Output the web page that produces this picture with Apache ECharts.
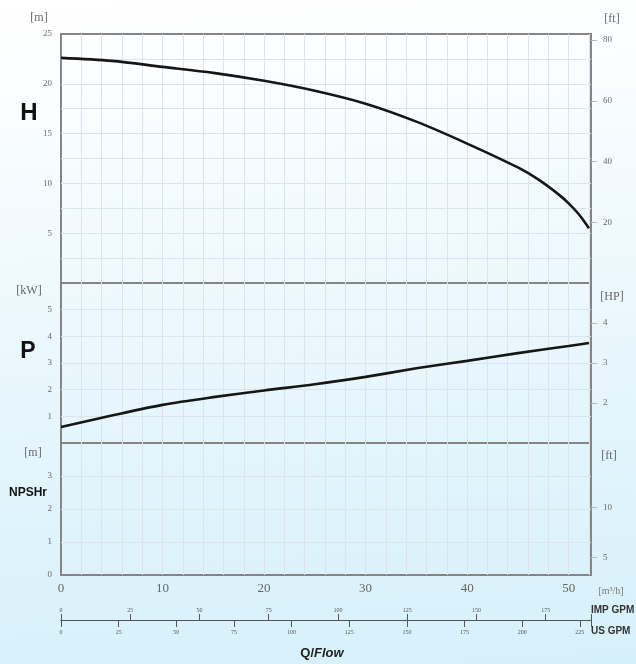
<!DOCTYPE html>
<html><head><meta charset="utf-8">
<script src="https://cdn.jsdelivr.net/npm/echarts@6/dist/echarts.min.js"></script>
<style>
html,body{margin:0;padding:0;}
body{width:636px;height:664px;background:linear-gradient(176deg,#ffffff 0%,#fcfeff 12%,#eff9fd 40%,#e1f4fc 70%,#d6f0fb 100%);}
#c{width:636px;height:664px;}
</style></head><body><div id="c"></div>
<script>
// Head curve H [m] vs flow Q [m3/h]
const flowH = [0, 5, 10, 15, 20, 25, 30, 35, 40, 45, 47, 49, 50, 51, 52];
const headM = [22.6, 22.3, 21.7, 21.1, 20.3, 19.3, 18.0, 16.2, 14.0, 11.6, 10.4, 8.9, 8.0, 6.9, 5.5];
// Power curve P [kW] vs flow
const flowP = [0, 5, 10, 15, 20, 25, 30, 35, 40, 45, 50, 52];
const powerKW = [0.6, 1.03, 1.43, 1.72, 1.97, 2.2, 2.48, 2.8, 3.08, 3.37, 3.64, 3.75];
// Axis ticks
const flowLabels = [0, 10, 20, 30, 40, 50];
const headLabels = [5, 10, 15, 20, 25];
const ftLabels = [20, 40, 60, 80];
const kwLabels = [1, 2, 3, 4, 5];
const hpLabels = [2, 3, 4];
const npshLabels = [0, 1, 2, 3];
const npshFtLabels = [5, 10];

const SERIF = '"Liberation Serif","DejaVu Serif",serif';
const SANS = '"Liberation Sans",Arial,sans-serif';
const XMAX = 52.2;
const gridLine = {show: true, showMinLine: false, showMaxLine: false, lineStyle: {color: '#dbe4ea', width: 1}};
const lblStyle = {color: '#6a6a6a', fontFamily: SERIF, fontSize: 9};
function rightTick(vals){ return {show: true, length: 6, lineStyle: {color: '#b8b8b8'}, customValues: vals}; }

function inList(list){ return v => list.some(x => Math.abs(x - v) < 1e-6) ? String(v) : ''; }

function flowAxis(gi, showLabels){
  return {type: 'value', gridIndex: gi, min: 0, max: XMAX, interval: 2,
    axisLine: {show: false}, axisTick: {show: false}, splitLine: gridLine,
    axisLabel: {show: showLabels, formatter: inList(flowLabels), color: '#666', fontFamily: SERIF, fontSize: 13, margin: 7, showMaxLabel: false}};
}
const border = {show: true, borderColor: '#858585', borderWidth: 2, backgroundColor: 'transparent'};

const chart = echarts.init(document.getElementById('c'));
chart.setOption({
  animation: false,
  backgroundColor: 'transparent',
  grid: [
    Object.assign({left: 61, top: 34, width: 530, height: 249}, border),
    Object.assign({left: 61, top: 283, width: 530, height: 160}, border),
    Object.assign({left: 61, top: 443, width: 530, height: 132}, border),
    {left: 61, top: 620, width: 530, height: 0, show: false}
  ],
  xAxis: [
    flowAxis(0, false),
    flowAxis(1, false),
    flowAxis(2, true),
    {type: 'value', gridIndex: 3, position: 'top', min: 0, max: XMAX * 3.666, interval: 25,
      axisLine: {show: true, onZero: false, lineStyle: {color: '#555', width: 1}},
      axisTick: {show: true, length: 6, lineStyle: {color: '#555'}},
      splitLine: {show: false},
      axisLabel: {show: true, color: '#555', fontFamily: SERIF, fontSize: 6, margin: 7,
        formatter: v => (v % 25 === 0 ? String(v) : '')}},
    {type: 'value', gridIndex: 3, position: 'bottom', min: 0, max: XMAX * 4.403, interval: 25,
      axisLine: {show: true, onZero: false, lineStyle: {color: '#555', width: 1}},
      axisTick: {show: true, length: 7, lineStyle: {color: '#555'}},
      splitLine: {show: false},
      axisLabel: {show: true, color: '#555', fontFamily: SERIF, fontSize: 6, margin: 9,
        formatter: v => (v % 25 === 0 ? String(v) : '')}}
  ],
  yAxis: [
    {type: 'value', gridIndex: 0, position: 'left', min: 0, max: 25, interval: 2.5,
      axisLine: {show: false}, axisTick: {show: false}, splitLine: gridLine,
      axisLabel: Object.assign({formatter: inList(headLabels), margin: 9}, lblStyle)},
    {type: 'value', gridIndex: 0, position: 'right', min: 0, max: 25 * 3.2808, interval: 20,
      axisLine: {show: false}, axisTick: rightTick(ftLabels), splitLine: {show: false},
      axisLabel: Object.assign({formatter: inList(ftLabels), margin: 12}, lblStyle)},
    {type: 'value', gridIndex: 1, position: 'left', min: 0, max: 6, interval: 1,
      axisLine: {show: false}, axisTick: {show: false}, splitLine: gridLine,
      axisLabel: Object.assign({formatter: inList(kwLabels), margin: 9}, lblStyle)},
    {type: 'value', gridIndex: 1, position: 'right', min: 1, max: 5, interval: 1,
      axisLine: {show: false}, axisTick: rightTick(hpLabels), splitLine: {show: false},
      axisLabel: Object.assign({formatter: inList(hpLabels), margin: 12}, lblStyle)},
    {type: 'value', gridIndex: 2, position: 'left', min: 0, max: 4, interval: 1,
      axisLine: {show: false}, axisTick: {show: false}, splitLine: gridLine,
      axisLabel: Object.assign({formatter: inList(npshLabels), margin: 9, showMaxLabel: false}, lblStyle)},
    {type: 'value', gridIndex: 2, position: 'right', min: 3.2808, max: 5 * 3.2808,
      axisLine: {show: false}, axisTick: rightTick(npshFtLabels), splitLine: {show: false},
      axisLabel: Object.assign({customValues: npshFtLabels, margin: 12}, lblStyle)},
    {type: 'value', gridIndex: 3, show: false, min: 0, max: 1}
  ],
  series: [
    {type: 'line', xAxisIndex: 0, yAxisIndex: 0, smooth: 0.3, showSymbol: false,
      lineStyle: {color: '#161616', width: 2.6},
      data: flowH.map((q, i) => [q, headM[i]])},
    {type: 'line', xAxisIndex: 1, yAxisIndex: 2, smooth: 0.3, showSymbol: false,
      lineStyle: {color: '#161616', width: 2.6},
      data: flowP.map((q, i) => [q, powerKW[i]])}
  ],
  graphic: [
    {type: 'text', x: 39, y: 18, style: {text: '[m]', fill: '#666', font: '12px ' + SERIF, textAlign: 'center', textVerticalAlign: 'middle'}},
    {type: 'text', x: 612, y: 19, style: {text: '[ft]', fill: '#666', font: '12px ' + SERIF, textAlign: 'center', textVerticalAlign: 'middle'}},
    {type: 'text', x: 29, y: 113, style: {text: 'H', fill: '#111', font: 'bold 24px ' + SANS, textAlign: 'center', textVerticalAlign: 'middle'}},
    {type: 'text', x: 29, y: 291, style: {text: '[kW]', fill: '#666', font: '12px ' + SERIF, textAlign: 'center', textVerticalAlign: 'middle'}},
    {type: 'text', x: 612, y: 297, style: {text: '[HP]', fill: '#666', font: '12px ' + SERIF, textAlign: 'center', textVerticalAlign: 'middle'}},
    {type: 'text', x: 28, y: 352, style: {text: 'P', fill: '#111', font: 'bold 23px ' + SANS, textAlign: 'center', textVerticalAlign: 'middle'}},
    {type: 'text', x: 33, y: 453, style: {text: '[m]', fill: '#666', font: '12px ' + SERIF, textAlign: 'center', textVerticalAlign: 'middle'}},
    {type: 'text', x: 609, y: 456, style: {text: '[ft]', fill: '#666', font: '12px ' + SERIF, textAlign: 'center', textVerticalAlign: 'middle'}},
    {type: 'text', x: 28, y: 493, style: {text: 'NPSHr', fill: '#111', font: 'bold 12px ' + SANS, textAlign: 'center', textVerticalAlign: 'middle'}},
    {type: 'text', x: 611, y: 591, style: {text: '[m³/h]', fill: '#777', font: '10px ' + SERIF, textAlign: 'center', textVerticalAlign: 'middle'}},
    {type: 'text', x: 591, y: 610, style: {text: 'IMP GPM', fill: '#333', font: 'bold 10px ' + SANS, textAlign: 'left', textVerticalAlign: 'middle'}},
    {type: 'text', x: 591, y: 631, style: {text: 'US GPM', fill: '#333', font: 'bold 10px ' + SANS, textAlign: 'left', textVerticalAlign: 'middle'}},
    {type: 'text', x: 314, y: 653, style: {text: 'Q/', fill: '#222', font: 'bold 13px ' + SANS, textAlign: 'right', textVerticalAlign: 'middle'}},
    {type: 'text', x: 314, y: 653, style: {text: 'Flow', fill: '#222', font: 'italic bold 13px ' + SANS, textAlign: 'left', textVerticalAlign: 'middle'}}
  ]
});
</script>
</body></html>
